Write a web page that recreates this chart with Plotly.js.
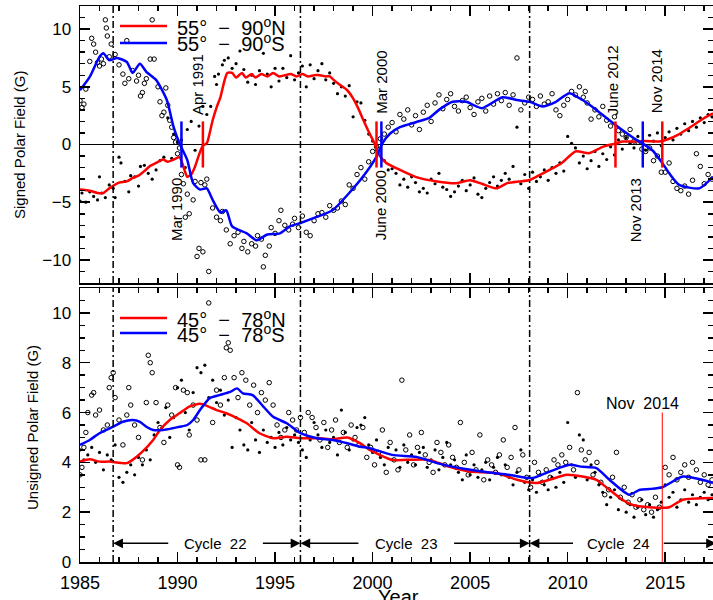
<!DOCTYPE html>
<html><head><meta charset="utf-8">
<script src="https://cdn.plot.ly/plotly-3.0.1.min.js"></script>
<style>body{margin:0;padding:0;background:#fff}#chart{width:713px;height:600px}</style>
</head><body><div id="chart"></div>
<script>
// ---------- Top panel: signed polar field ----------
// North (55-90N) monthly points (filled dots)
const topNorthYear = [1985.0,1985.1,1985.3,1985.5,1985.7,1985.9,1986.0,1986.1,1986.3,1986.5,1986.7,1986.8,1987.0,1987.1,1987.3,1987.5,1987.6,1987.8,1988.0,1988.1,1988.3,1988.5,1988.7,1988.9,1989.1,1989.3,1989.5,1989.7,1989.8,1990.0,1990.2,1990.4,1990.5,1990.7,1990.9,1991.1,1991.3,1991.5,1991.7,1991.9,1992.0,1992.1,1992.3,1992.4,1992.6,1992.8,1993.0,1993.2,1993.4,1993.6,1993.8,1994.0,1994.2,1994.4,1994.6,1994.8,1995.0,1995.2,1995.4,1995.6,1995.8,1996.0,1996.2,1996.4,1996.6,1996.8,1997.0,1997.2,1997.4,1997.6,1997.8,1998.0,1998.2,1998.4,1998.6,1998.8,1999.0,1999.2,1999.4,1999.6,1999.8,2000.0,2000.2,2000.4,2000.6,2000.8,2001.0,2001.2,2001.4,2001.6,2001.8,2002.0,2002.2,2002.4,2002.6,2002.8,2003.0,2003.2,2003.4,2003.6,2003.8,2004.0,2004.2,2004.4,2004.6,2004.8,2005.0,2005.2,2005.4,2005.6,2005.8,2006.0,2006.2,2006.4,2006.6,2006.8,2007.0,2007.2,2007.4,2007.6,2007.8,2008.0,2008.2,2008.4,2008.6,2008.8,2009.0,2009.2,2009.4,2009.6,2009.8,2010.0,2010.2,2010.4,2010.6,2010.8,2011.0,2011.2,2011.4,2011.6,2011.8,2012.0,2012.2,2012.4,2012.6,2012.8,2013.0,2013.2,2013.4,2013.6,2013.8,2014.0,2014.2,2014.4,2014.6,2014.8,2015.0,2015.2,2015.4,2015.6,2015.8,2016.0,2016.2,2016.4,2016.6,2016.8,2017.0,2017.2,2017.4];
const topNorthVal = [-4.9,-4.2,-5.0,-4.1,-4.5,-4.8,-2.8,-4.2,-4.6,-3.5,-3.8,-4.6,-1.1,-1.6,-3.2,-4.1,-2.7,-2.8,-3.6,-1.9,-1.8,-2.5,-3.0,-2.2,-1.4,-1.1,2.3,-1.2,0.9,0.2,0.4,-2.0,1.3,2.0,-0.5,1.6,3.3,2.6,3.3,5.9,5.2,6.1,6.9,7.3,7.5,6.6,7.0,8.1,6.5,5.4,6.0,5.2,6.4,7.9,6.1,5.0,6.6,5.5,6.6,5.8,7.7,5.6,6.2,6.8,5.0,6.9,5.7,6.4,7.0,5.6,6.2,5.3,4.4,5.0,4.2,5.1,2.4,3.7,3.6,2.1,0.9,0.3,-0.5,-1.0,-1.4,-2.2,-2.1,-2.5,-3.5,-3.0,-3.7,-2.8,-3.3,-4.1,-3.8,-4.2,-3.0,-3.4,-2.5,-3.7,-3.9,-4.5,-4.1,-3.6,-3.1,-4.0,-3.5,-2.9,-4.3,-4.6,-3.8,-3.3,-2.8,-3.6,-3.1,-2.5,-3.0,-1.9,1.5,-3.4,-2.6,-3.8,-2.4,-3.2,-2.8,-2.2,-3.1,-2.0,-2.5,-1.6,-2.3,0.7,0.1,-0.3,-1.6,-1.0,-2.1,-1.4,-0.6,-1.9,-0.8,-1.3,-0.2,-0.9,0.4,-0.4,0.6,0.1,-0.3,0.7,0.2,-0.5,0.8,0.3,1.0,-0.1,0.6,1.1,0.4,1.4,0.9,1.8,1.2,2.0,1.5,2.3,1.9,2.6,2.4];
// South (55-90S) monthly points (open circles)
const topSouthYear = [1985.0,1985.1,1985.2,1985.3,1985.5,1985.6,1985.7,1985.8,1985.9,1986.0,1986.1,1986.2,1986.3,1986.35,1986.4,1986.5,1986.6,1986.8,1987.0,1987.2,1987.3,1987.4,1987.5,1987.7,1987.9,1988.0,1988.1,1988.2,1988.3,1988.4,1988.6,1988.7,1988.8,1989.0,1989.1,1989.2,1989.3,1989.4,1989.5,1989.6,1989.7,1989.8,1989.9,1990.0,1990.1,1990.2,1990.3,1990.4,1990.5,1990.6,1990.8,1990.9,1991.0,1991.1,1991.2,1991.3,1991.4,1991.5,1991.6,1991.8,1992.0,1992.2,1992.3,1992.5,1992.7,1992.9,1993.1,1993.3,1993.4,1993.6,1993.8,1994.0,1994.1,1994.3,1994.4,1994.5,1994.7,1994.8,1995.0,1995.2,1995.3,1995.5,1995.7,1995.9,1996.0,1996.2,1996.4,1996.6,1996.8,1997.0,1997.2,1997.4,1997.6,1997.8,1998.0,1998.2,1998.4,1998.6,1998.8,1999.0,1999.2,1999.4,1999.6,1999.8,2000.0,2000.2,2000.4,2000.6,2000.8,2001.0,2001.2,2001.4,2001.6,2001.8,2002.0,2002.2,2002.4,2002.6,2002.8,2003.0,2003.2,2003.4,2003.6,2003.8,2004.0,2004.2,2004.4,2004.6,2004.8,2005.0,2005.2,2005.4,2005.6,2005.8,2006.0,2006.2,2006.4,2006.6,2006.8,2007.0,2007.2,2007.4,2007.6,2007.8,2008.0,2008.2,2008.4,2008.6,2008.8,2009.0,2009.2,2009.4,2009.6,2009.8,2010.0,2010.2,2010.4,2010.6,2010.8,2010.9,2011.0,2011.2,2011.4,2011.6,2011.8,2012.0,2012.2,2012.4,2012.6,2012.8,2013.0,2013.2,2013.4,2013.6,2013.8,2014.0,2014.2,2014.4,2014.6,2014.8,2015.0,2015.2,2015.4,2015.6,2015.8,2016.0,2016.2,2016.4,2016.6,2016.8,2017.0,2017.2,2017.4];
const topSouthVal = [3.8,3.2,3.5,4.8,7.2,9.2,8.7,8.0,7.1,6.8,7.4,7.0,10.8,10.1,9.4,7.6,8.7,7.8,6.9,6.1,5.3,9.0,5.7,6.4,5.5,6.0,4.2,4.5,5.3,5.7,7.4,10.8,7.4,5.0,3.7,2.5,2.8,4.9,3.4,2.1,1.5,0.6,0.2,-0.8,-0.3,-2.6,-3.4,-6.3,-4.3,-6.0,-4.8,-3.2,-9.7,-9.0,-3.3,-9.3,-3.5,-3.0,-11.0,-5.5,-6.3,-6.6,-5.8,-7.4,-8.6,-7.9,-7.6,-9.0,-8.4,-9.3,-8.6,-8.8,-7.9,-8.2,-10.6,-9.6,-8.8,-7.2,-7.7,-6.6,-5.7,-7.0,-7.4,-6.9,-6.4,-7.2,-6.2,-7.6,-7.9,-6.6,-6.0,-5.9,-6.3,-5.3,-5.7,-5.5,-4.9,-5.2,-3.5,-3.8,-2.6,-2.0,-3.0,-1.5,-0.6,-0.2,0.5,0.9,1.5,1.9,1.1,2.6,2.2,3.0,1.7,2.5,1.3,2.8,3.4,2.0,3.6,4.3,3.1,3.9,4.4,3.3,2.9,3.8,4.1,3.2,2.6,3.7,4.0,2.9,4.2,3.5,4.4,3.8,4.5,3.4,4.3,7.5,3.0,3.6,4.1,3.9,3.3,4.2,3.5,3.7,4.4,3.0,2.5,3.4,3.9,4.6,4.3,5.0,4.1,4.6,3.6,2.2,3.0,2.4,3.3,2.1,1.6,2.4,1.2,0.9,0.6,1.3,0.3,0.2,-0.4,-0.6,-0.3,-1.4,-1.0,-2.4,-2.4,-1.6,-3.2,-3.8,-4.0,-3.6,-4.3,-3.1,-0.8,-1.9,-3.4,-2.6,-3.0];
// Smoothed curves
const topNorthLineYear = [1985.0,1985.5,1985.9,1986.2,1986.5,1987.0,1987.4,1987.7,1988.0,1988.3,1988.6,1988.9,1989.25,1989.5,1989.8,1990.1,1990.3,1990.5,1990.7,1990.9,1991.1,1991.3,1991.5,1991.65,1991.8,1992.0,1992.2,1992.4,1992.55,1992.8,1993.0,1993.3,1993.5,1993.8,1994.0,1994.3,1994.6,1994.9,1995.2,1995.5,1995.8,1996.1,1996.4,1996.7,1997.0,1997.3,1997.6,1997.8,1998.0,1998.3,1998.7,1999.0,1999.3,1999.5,1999.8,2000.1,2000.3,2000.7,2001.4,2002.2,2003.3,2004.3,2005.0,2005.6,2006.35,2006.9,2007.5,2008.0,2008.5,2009.07,2009.7,2010.4,2011.1,2011.8,2012.5,2012.8,2013.5,2014.0,2014.5,2014.85,2015.2,2015.6,2016.1,2016.6,2017.0,2017.45];
const topNorthLineVal = [-3.9,-4.0,-4.2,-4.2,-3.8,-3.3,-3.2,-2.9,-2.7,-2.3,-1.85,-1.6,-1.3,-1.5,-1.3,-1.1,-1.9,-2.8,-2.6,-1.9,-0.9,-0.1,0.1,1.0,2.1,3.2,4.1,5.5,6.2,6.2,5.8,6.2,5.8,6.1,5.8,6.1,5.9,6.2,5.9,6.0,6.1,5.9,6.1,5.9,6.0,6.0,5.9,5.9,5.6,5.2,4.7,4.0,3.0,2.2,1.1,0.1,-0.8,-1.6,-2.2,-2.8,-3.2,-3.35,-3.1,-3.4,-3.8,-3.35,-3.2,-3.1,-2.7,-2.2,-1.6,-0.6,-0.75,-0.2,0.1,0.25,0.25,0.3,0.25,0.3,0.5,0.8,1.3,1.85,2.3,2.7];
const topSouthLineYear = [1985.0,1985.5,1986.0,1986.2,1986.5,1986.9,1987.4,1987.7,1988.07,1988.4,1988.9,1989.45,1989.8,1990.1,1990.5,1990.8,1991.15,1991.5,1991.8,1992.2,1992.5,1992.8,1993.55,1994.05,1994.6,1995.25,1995.75,1996.3,1997.1,1997.95,1998.8,1999.5,2000.2,2000.5,2000.9,2001.4,2002.25,2002.9,2003.4,2004.1,2004.8,2005.6,2006.65,2007.4,2008.05,2008.7,2009.4,2010.09,2010.76,2011.47,2012.14,2012.8,2013.52,2013.83,2014.34,2014.85,2015.21,2015.72,2016.75,2017.45];
const topSouthLineVal = [4.7,5.85,7.6,7.9,7.3,7.5,7.15,6.2,7.0,6.3,5.6,3.85,1.5,0.1,-1.35,-3.35,-3.9,-3.8,-4.8,-5.9,-5.7,-7.1,-7.7,-8.3,-7.8,-7.7,-7.1,-6.8,-6.3,-5.7,-4.2,-2.8,-1.05,0.1,0.95,1.5,1.95,2.3,3.0,3.7,3.7,3.15,4.1,3.85,3.7,3.3,3.7,4.45,3.85,3.0,2.1,1.25,0.4,0.1,-0.5,-1.6,-2.5,-3.5,-3.8,-2.8];
// Polarity-reversal times (years) and labels
const revNorthYear = [1991.3, 2000.2, 2012.45, 2014.85];
const revNorthLabel = ['Apr 1991', 'Mar 2000', 'June 2012', 'Nov 2014'];
const revSouthYear = [1990.2, 2000.45, 2013.85];
const revSouthLabel = ['Mar 1990', 'June 2000', 'Nov 2013'];

// ---------- Bottom panel: unsigned polar field ----------
const botNorthYear = [1985.0,1985.2,1985.4,1985.6,1985.8,1986.0,1986.2,1986.4,1986.6,1986.8,1987.0,1987.2,1987.4,1987.6,1987.8,1988.0,1988.2,1988.4,1988.6,1988.8,1989.0,1989.2,1989.4,1989.6,1989.8,1990.0,1990.2,1990.4,1990.6,1990.8,1991.0,1991.2,1991.4,1991.6,1991.8,1992.0,1992.2,1992.4,1992.6,1992.8,1993.0,1993.2,1993.4,1993.6,1993.8,1994.0,1994.2,1994.4,1994.6,1994.8,1995.0,1995.2,1995.4,1995.6,1995.8,1996.0,1996.2,1996.4,1996.6,1996.8,1997.0,1997.2,1997.4,1997.6,1997.8,1998.0,1998.2,1998.4,1998.6,1998.8,1999.0,1999.2,1999.4,1999.6,1999.8,2000.0,2000.2,2000.4,2000.6,2000.8,2001.0,2001.2,2001.4,2001.6,2001.8,2002.0,2002.2,2002.4,2002.6,2002.8,2003.0,2003.2,2003.4,2003.6,2003.8,2004.0,2004.2,2004.4,2004.6,2004.8,2005.0,2005.2,2005.4,2005.6,2005.8,2006.0,2006.2,2006.4,2006.6,2006.8,2007.0,2007.2,2007.4,2007.6,2007.8,2008.0,2008.2,2008.4,2008.6,2008.8,2009.0,2009.2,2009.4,2009.6,2009.8,2010.0,2010.2,2010.4,2010.6,2010.8,2011.0,2011.2,2011.4,2011.6,2011.8,2012.0,2012.2,2012.4,2012.6,2012.8,2013.0,2013.2,2013.4,2013.6,2013.8,2014.0,2014.2,2014.4,2014.6,2014.8,2015.0,2015.2,2015.4,2015.6,2015.8,2016.0,2016.2,2016.4,2016.6,2016.8,2017.0,2017.2,2017.4];
const botNorthVal = [4.5,4.1,4.3,4.6,4.0,4.4,3.7,4.3,4.1,4.7,3.4,3.2,3.6,3.9,3.5,4.2,3.9,4.5,4.1,5.1,5.6,5.4,6.2,5.0,5.8,7.0,7.3,6.0,5.3,6.8,7.8,7.6,7.9,6.6,7.3,6.4,6.9,5.9,6.5,4.6,5.8,5.3,4.7,4.5,5.6,4.9,4.4,5.3,4.8,5.0,4.6,5.2,4.7,5.4,4.9,5.1,4.8,4.5,4.2,4.9,5.6,5.1,4.6,5.3,4.8,5.0,4.3,6.1,5.2,4.5,4.9,5.4,5.5,5.8,4.7,4.4,4.9,4.2,3.9,4.6,4.1,4.5,3.8,4.7,4.0,4.3,3.9,4.4,4.6,3.8,4.1,4.5,3.7,4.2,4.8,3.9,4.1,3.6,3.3,4.3,3.5,3.9,3.4,3.7,4.0,3.3,3.8,4.2,3.5,3.9,3.4,3.1,3.6,4.5,3.2,2.9,3.3,2.8,3.5,3.1,2.9,3.4,3.0,3.6,3.2,5.6,3.9,3.4,5.1,4.9,3.3,3.9,3.6,3.1,2.8,2.3,2.6,2.9,2.1,2.5,2.0,2.3,1.8,2.2,2.5,1.9,2.3,1.8,2.1,2.4,3.1,2.6,2.8,2.2,2.5,2.9,2.4,2.7,2.3,2.6,2.8,2.5,2.7];
const botSouthYear = [1985.0,1985.1,1985.2,1985.3,1985.4,1985.6,1985.7,1985.8,1986.0,1986.2,1986.4,1986.5,1986.6,1986.7,1986.8,1987.0,1987.2,1987.4,1987.5,1987.6,1987.8,1988.0,1988.2,1988.4,1988.5,1988.6,1988.7,1988.9,1989.1,1989.3,1989.5,1989.7,1989.9,1990.0,1990.1,1990.3,1990.5,1990.6,1990.8,1991.0,1991.2,1991.4,1991.6,1991.8,1992.0,1992.2,1992.4,1992.5,1992.6,1992.7,1992.9,1993.1,1993.3,1993.5,1993.7,1993.9,1994.1,1994.3,1994.5,1994.7,1994.9,1995.1,1995.3,1995.5,1995.7,1995.9,1996.1,1996.3,1996.5,1996.7,1996.9,1997.1,1997.3,1997.5,1997.7,1997.9,1998.1,1998.3,1998.5,1998.7,1998.9,1999.1,1999.3,1999.5,1999.7,1999.9,2000.1,2000.3,2000.5,2000.7,2000.9,2001.1,2001.3,2001.5,2001.7,2001.9,2002.1,2002.3,2002.5,2002.7,2002.9,2003.1,2003.3,2003.5,2003.7,2003.9,2004.1,2004.3,2004.5,2004.7,2004.9,2005.1,2005.3,2005.5,2005.7,2005.9,2006.1,2006.3,2006.5,2006.7,2006.9,2007.1,2007.3,2007.5,2007.7,2007.9,2008.1,2008.3,2008.5,2008.7,2008.9,2009.1,2009.3,2009.5,2009.7,2009.9,2010.1,2010.3,2010.5,2010.7,2010.9,2011.1,2011.3,2011.5,2011.7,2011.9,2012.1,2012.3,2012.5,2012.7,2012.9,2013.1,2013.3,2013.5,2013.7,2013.9,2014.1,2014.3,2014.5,2014.7,2015.0,2015.2,2015.4,2015.6,2015.8,2016.0,2016.2,2016.4,2016.6,2016.8,2017.0,2017.2,2017.4];
const botSouthVal = [3.5,3.8,4.6,5.2,6.0,6.7,6.8,5.9,6.1,5.3,5.5,7.0,7.4,7.6,6.6,5.7,4.7,5.9,7.0,6.3,5.5,5.0,4.1,6.4,8.3,8.0,7.6,6.4,5.4,4.8,6.3,5.9,7.0,3.9,3.8,6.9,6.8,5.1,6.3,5.7,4.1,4.1,10.4,5.6,6.9,6.3,7.4,8.6,8.8,8.5,7.4,6.6,7.6,7.3,6.3,7.1,6.0,6.8,6.5,7.2,6.3,5.5,5.0,5.3,6.0,5.7,5.3,5.8,5.2,6.0,5.8,5.4,4.9,5.6,4.6,5.3,5.7,4.8,5.2,4.6,5.5,5.0,4.7,5.4,4.2,4.6,3.9,4.4,5.3,3.6,4.8,4.1,3.7,7.3,4.5,5.1,3.9,4.6,5.2,4.3,4.0,3.6,4.8,4.4,3.9,4.7,4.2,3.8,5.6,4.0,3.5,4.4,3.7,5.1,3.3,4.1,3.9,3.6,4.3,4.9,3.8,4.2,5.4,3.7,4.3,3.4,3.0,4.0,3.6,3.2,3.7,3.4,4.1,3.9,4.3,4.0,4.6,3.7,6.8,4.5,4.1,4.4,3.5,4.0,3.2,2.7,2.9,3.4,4.4,2.6,3.0,2.4,2.7,2.2,2.5,2.1,2.3,2.0,2.6,2.2,3.8,3.5,4.2,3.3,3.6,3.9,3.4,4.0,3.7,3.2,3.5,3.1,3.3];
const botNorthLineYear = [1985.0,1985.5,1986.0,1986.5,1987.4,1987.7,1988.2,1988.75,1989.1,1989.6,1990.1,1990.6,1991.15,1991.5,1992.0,1992.5,1993.05,1993.55,1994.2,1994.9,1995.6,1996.3,1997.3,1997.95,1998.7,1999.35,1999.85,2001.0,2001.75,2002.9,2003.95,2004.95,2006.35,2007.4,2008.4,2009.07,2009.95,2010.75,2011.47,2012.14,2012.8,2013.3,2014.2,2015.2,2015.9,2017.45];
const botNorthLineVal = [4.03,4.12,4.03,4.03,3.97,4.1,4.43,4.9,5.3,5.7,5.97,6.24,6.35,6.27,6.1,5.97,5.78,5.57,5.17,4.97,5.03,4.97,4.97,4.93,5.0,4.77,4.5,4.1,4.1,4.1,3.82,3.63,3.57,3.3,3.17,3.3,3.5,3.43,3.3,2.9,2.5,2.3,2.2,2.2,2.5,2.57];
const botSouthLineYear = [1985.0,1985.5,1986.0,1986.7,1987.2,1987.7,1988.07,1988.4,1988.75,1989.25,1989.75,1990.1,1990.5,1990.8,1991.15,1991.65,1992.15,1992.7,1993.05,1993.35,1993.85,1994.4,1994.9,1995.6,1996.3,1997.15,1997.95,1998.7,1999.35,1999.85,2001.0,2002.25,2003.3,2004.45,2005.6,2007.0,2008.2,2009.07,2010.1,2010.75,2011.47,2012.14,2013.15,2013.7,2014.2,2014.85,2015.9,2016.9,2017.45];
const botSouthLineVal = [4.7,4.9,5.17,5.43,5.63,5.7,5.63,5.43,5.3,5.3,5.37,5.43,5.5,5.7,6.1,6.58,6.7,6.83,6.97,6.77,6.7,6.24,5.83,5.57,5.17,4.97,4.9,4.77,4.63,4.57,4.3,4.22,3.97,3.77,3.63,3.5,3.37,3.63,3.9,3.82,3.77,3.3,2.7,2.9,2.93,3.0,3.43,3.3,3.17];

// Cycle minima and labels
const cycleStart = [1986.7, 1996.3, 2008.05];
const cycleEnd = [1996.3, 2008.05, 2017.6];
const cycleLabel = ['Cycle 22', 'Cycle 23', 'Cycle 24'];
const cycleGap = [[1989.6, 1994.3], [1999.35, 2004.1], [2010.35, 2014.85]];
const markYear = 2014.85, markLabel = 'Nov 2014', markTop = 6;

const FONT = 'Liberation Sans, Arial, Helvetica, sans-serif';
const RED = '#ff0000', BLUE = '#0000ff';

function pts(x, y, xa, ya, open) {
  return {x, y, xaxis: xa, yaxis: ya, type: 'scatter', mode: 'markers', hoverinfo: 'skip',
    marker: open ? {symbol: 'circle-open', size: 4.5, color: 'black', line: {width: 1, color: 'black'}}
                 : {symbol: 'circle', size: 3.2, color: 'black'}};
}
function curve(x, y, xa, ya, c) {
  return {x, y, xaxis: xa, yaxis: ya, type: 'scatter', mode: 'lines', hoverinfo: 'skip',
    line: {color: c, width: 2.5, shape: 'spline', smoothing: 0.6}};
}
const data = [
  pts(topNorthYear, topNorthVal, 'x', 'y', false),
  pts(topSouthYear, topSouthVal, 'x', 'y', true),
  curve(topNorthLineYear, topNorthLineVal, 'x', 'y', RED),
  curve(topSouthLineYear, topSouthLineVal, 'x', 'y', BLUE),
  pts(botNorthYear, botNorthVal, 'x2', 'y2', false),
  pts(botSouthYear, botSouthVal, 'x2', 'y2', true),
  curve(botNorthLineYear, botNorthLineVal, 'x2', 'y2', RED),
  curve(botSouthLineYear, botSouthLineVal, 'x2', 'y2', BLUE)
];

const axBase = {showline: true, linewidth: 1.5, linecolor: 'black', mirror: 'ticks', ticks: 'inside',
  tickwidth: 1.5, tickcolor: 'black', ticklen: 10, showgrid: false, zeroline: false,
  tickfont: {family: FONT, size: 17, color: 'black'}};
const XR = [1985, 2017.45];

const shapes = [];
const annotations = [];
// cycle-minimum dash-dot lines
cycleStart.forEach(function (yr) {
  [['x', 'y domain'], ['x2', 'y2 domain']].forEach(function (r) {
    shapes.push({type: 'line', xref: r[0], yref: r[1], x0: yr, x1: yr, y0: 0, y1: 1,
      line: {color: 'black', width: 1.5, dash: '7px,3px,2px,3px'}});
  });
});
// reversal marks
revNorthYear.forEach(function (yr) {
  shapes.push({type: 'line', xref: 'x', yref: 'y', x0: yr, x1: yr, y0: -2, y1: 2, line: {color: RED, width: 2.5}});
});
revSouthYear.forEach(function (yr) {
  shapes.push({type: 'line', xref: 'x', yref: 'y', x0: yr, x1: yr, y0: -2, y1: 2, line: {color: BLUE, width: 2.5}});
});
// reversal labels (rotated)
const northLabelPos = [[-0.3, 5.15], [0.26, 5.4], [-0.16, 5.58], [-0.31, 5.5]];
const southLabelPos = [[-0.28, -5.6], [-0.04, -5.3], [-0.33, -5.67]];
revNorthYear.forEach(function (yr, i) {
  annotations.push({xref: 'x', yref: 'y', x: yr + northLabelPos[i][0], y: northLabelPos[i][1], text: revNorthLabel[i],
    textangle: -90, showarrow: false, xanchor: 'center', yanchor: 'middle', font: {family: FONT, size: 15, color: 'black'}});
});
revSouthYear.forEach(function (yr, i) {
  annotations.push({xref: 'x', yref: 'y', x: yr + southLabelPos[i][0], y: southLabelPos[i][1], text: revSouthLabel[i],
    textangle: -90, showarrow: false, xanchor: 'center', yanchor: 'middle', font: {family: FONT, size: 15, color: 'black'}});
});
// Nov 2014 marker in bottom panel
shapes.push({type: 'line', xref: 'x2', yref: 'y2', x0: markYear, x1: markYear, y0: 0, y1: markTop, line: {color: RED, width: 1}});
annotations.push({xref: 'x2', yref: 'y2', x: markYear - 1.0, y: markTop + 0.35, text: 'Nov\u00a0\u00a02014', showarrow: false,
  xanchor: 'center', yanchor: 'middle', font: {family: FONT, size: 16, color: 'black'}});
// cycle arrows
const arrowY = 0.75;
cycleLabel.forEach(function (lab, i) {
  const mid = (cycleGap[i][0] + cycleGap[i][1]) / 2;
  annotations.push({xref: 'x2', yref: 'y2', x: mid, y: arrowY, text: lab.replace(' ', '\u00a0\u00a0'), showarrow: false,
    xanchor: 'center', yanchor: 'middle', font: {family: FONT, size: 15, color: 'black'}});
  annotations.push({xref: 'x2', yref: 'y2', axref: 'x2', ayref: 'y2', x: cycleStart[i], y: arrowY, ax: cycleGap[i][0], ay: arrowY,
    text: '', showarrow: true, arrowhead: 2, arrowsize: 1.3, arrowwidth: 1.5, arrowcolor: 'black', standoff: 0, startstandoff: 0});
  annotations.push({xref: 'x2', yref: 'y2', axref: 'x2', ayref: 'y2', x: cycleEnd[i], y: arrowY, ax: cycleGap[i][1], ay: arrowY,
    text: '', showarrow: true, arrowhead: 2, arrowsize: 1.3, arrowwidth: 1.5, arrowcolor: 'black', standoff: 0, startstandoff: 0});
});
// legends (manual)
function px(xp) { return (xp - 80) / 633; }
function py(yp) { return 1 - yp / 600; }
[[26, RED, '55°\u00a0\u00a0\u2212\u00a0\u00a090<sup>o</sup>N'], [43, BLUE, '55°\u00a0\u00a0\u2212\u00a0\u00a090<sup>o</sup>S'],
 [318, RED, '45°\u00a0\u00a0\u2212\u00a0\u00a078<sup>o</sup>N'], [333, BLUE, '45°\u00a0\u00a0\u2212\u00a0\u00a078<sup>o</sup>S']].forEach(function (l) {
  shapes.push({type: 'line', xref: 'paper', yref: 'paper', x0: px(120), x1: px(167), y0: py(l[0]), y1: py(l[0]), line: {color: l[1], width: 2.5}});
  annotations.push({xref: 'paper', yref: 'paper', x: px(175), y: py(l[0]), text: l[2], showarrow: false,
    xanchor: 'left', yanchor: 'middle', font: {family: FONT, size: 20, color: 'black'}});
});
// axis titles
annotations.push({xref: 'paper', yref: 'paper', x: px(19), y: py(145), text: 'Signed Polar Field (G)', textangle: -90,
  showarrow: false, xanchor: 'center', yanchor: 'middle', font: {family: FONT, size: 15, color: 'black'}});
annotations.push({xref: 'paper', yref: 'paper', x: px(32), y: py(427), text: 'Unsigned Polar Field (G)', textangle: -90,
  showarrow: false, xanchor: 'center', yanchor: 'middle', font: {family: FONT, size: 15, color: 'black'}});
annotations.push({xref: 'paper', yref: 'paper', x: px(398), y: py(597), text: 'Year',
  showarrow: false, xanchor: 'center', yanchor: 'middle', font: {family: FONT, size: 20, color: 'black'}});

const layout = {
  width: 713, height: 600, margin: {l: 80, r: 0, t: 0, b: 0}, showlegend: false,
  paper_bgcolor: 'white', plot_bgcolor: 'white', font: {family: FONT, color: 'black'},
  xaxis: Object.assign({}, axBase, {anchor: 'y', range: XR, tick0: 1985, dtick: 5, showticklabels: false,
    minor: {dtick: 1, ticks: 'inside', ticklen: 5, tickwidth: 1.5, tickcolor: 'black'}}),
  yaxis: Object.assign({}, axBase, {domain: [1 - 283 / 600, 1 - 6 / 600], anchor: 'x', range: [-12, 12], tick0: 0, dtick: 5,
    zeroline: true, zerolinecolor: 'black', zerolinewidth: 1.5, ticklabelstandoff: 4,
    minor: {dtick: 1, ticks: 'inside', ticklen: 5, tickwidth: 1.5, tickcolor: 'black'}}),
  xaxis2: Object.assign({}, axBase, {anchor: 'y2', range: XR, tick0: 1985, dtick: 5, matches: 'x',
    tickfont: {family: FONT, size: 18, color: 'black'}, ticklabelstandoff: 4,
    minor: {dtick: 1, ticks: 'inside', ticklen: 5, tickwidth: 1.5, tickcolor: 'black'}}),
  yaxis2: Object.assign({}, axBase, {domain: [1 - 562 / 600, 1 - 288 / 600], anchor: 'x2', range: [0, 11], tick0: 0, dtick: 2,
    ticklabelstandoff: 4,
    minor: {dtick: 0.5, ticks: 'inside', ticklen: 5, tickwidth: 1.5, tickcolor: 'black'}}),
  shapes: shapes, annotations: annotations
};
Plotly.newPlot('chart', data, layout, {staticPlot: true, displayModeBar: false});
</script></body></html>
